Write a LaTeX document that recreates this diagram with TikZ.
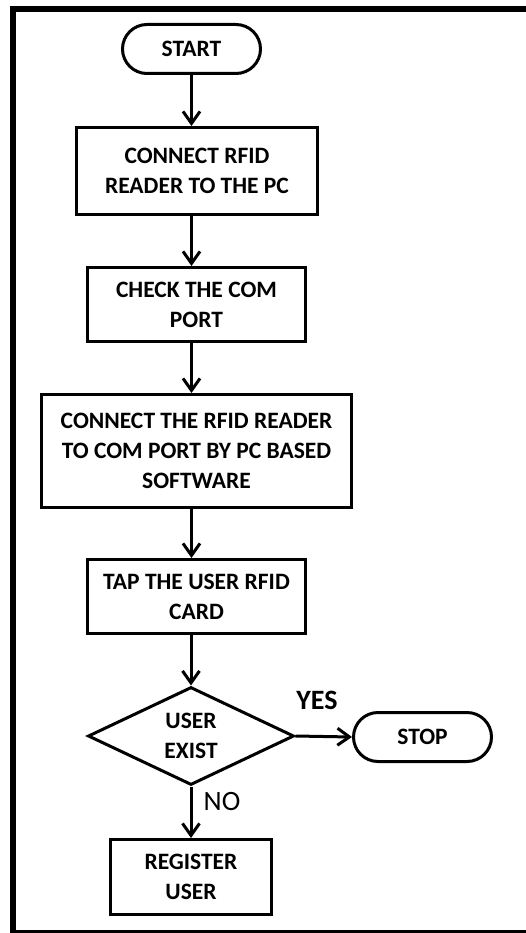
\documentclass[tikz,border=0pt]{standalone}
\usepackage{fontspec}
\setmainfont{Carlito}
\usetikzlibrary{arrows.meta}
\usetikzlibrary{shapes}
\usetikzlibrary{positioning}

\begin{document}
\begin{tikzpicture}[x=1pt,y=-1pt]
\tikzset{TermBox/.style={
  draw,
  rounded rectangle,
  line width=3pt,
  align=center,
  minimum width=138pt,
  minimum height=49pt,
  inner sep=0pt,
  font=\fontsize{23.5}{30}\selectfont\bfseries,
}}
\tikzset{StepBox/.style={
  draw,
  rectangle,
  line width=3pt,
  align=center,
  inner sep=0pt,
  font=\fontsize{23.5}{30}\selectfont\bfseries,
}}
\tikzset{DecisionBox/.style={
  draw,
  diamond,
  aspect=2.1,
  line width=3pt,
  align=center,
  minimum width=206pt,
  minimum height=98pt,
  inner sep=0pt,
  font=\fontsize{23.5}{30}\selectfont\bfseries,
}}
\tikzset{Flow/.style={
  line width=3pt,
  -{Straight Barb[length=12pt,width=17pt]},
}}

\path[use as bounding box, clip] (0,0) rectangle (526,933);
% outer frame, cut off at the right edge of the page
\draw[line width=6pt] (545,9) -- (13,9) -- (13,933) -- (545,933);

\node[TermBox] (start) at (191.5,49) {START};
\node[StepBox, minimum width=241pt, minimum height=87pt] (connect) at (197,171)
  {CONNECT RFID\\READER TO THE PC};
\node[StepBox, minimum width=218pt, minimum height=74pt] (checkport) at (196.5,304.5)
  {CHECK THE COM\\PORT};
\node[StepBox, minimum width=310pt, minimum height=113pt] (linkport) at (196.5,451)
  {CONNECT THE RFID READER\\TO COM PORT BY PC BASED\\SOFTWARE};
\node[StepBox, minimum width=218pt, minimum height=74pt] (tapcard) at (196.5,596.5)
  {TAP THE USER RFID\\CARD};
\node[DecisionBox] (userexist) at (191,736) {USER\\EXIST};
\node[TermBox] (stop) at (422.5,737) {STOP};
\node[StepBox, minimum width=161pt, minimum height=75pt] (register) at (191,877)
  {REGISTER\\USER};

\node[font=\fontsize{28}{34}\selectfont\bfseries] (yes) at (317,700) {YES};
\node[font=\fontsize{28}{34}\selectfont] (no) at (222,802) {NO};

\draw[Flow] (start.south) -- (start.south |- connect.north);
\draw[Flow] (connect.south -| start.south) -- (checkport.north -| start.south);
\draw[Flow] (checkport.south -| start.south) -- (linkport.north -| start.south);
\draw[Flow] (linkport.south -| start.south) -- (tapcard.north -| start.south);
\draw[Flow] (tapcard.south -| userexist.north) -- (userexist.north);
\draw[Flow] (userexist.east) -- (stop.west);
\draw[Flow] (userexist.south) -- (register.north);
\end{tikzpicture}
\end{document}
